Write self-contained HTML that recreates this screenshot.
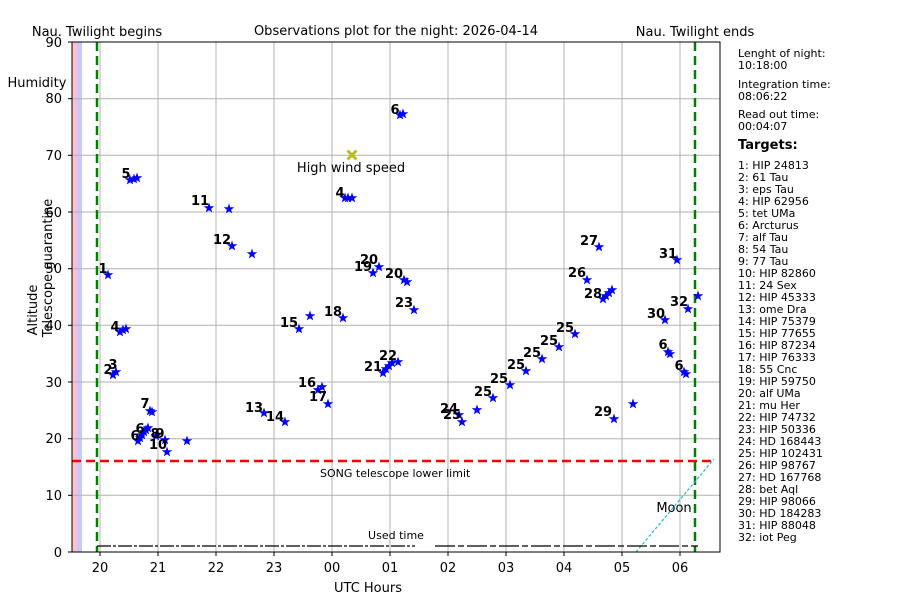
<!DOCTYPE html>
<html><head><meta charset="utf-8"><style>
body{margin:0;background:#fff;}
svg text{font-family:"DejaVu Sans","Liberation Sans",sans-serif;}
</style></head><body>
<svg width="900" height="600" xmlns="http://www.w3.org/2000/svg">
<defs><polygon id="s" points="0,-5.5 1.3,-1.8 5.3,-1.7 2.1,0.7 3.2,4.4 0,2.2 -3.2,4.4 -2.1,0.7 -5.3,-1.7 -1.3,-1.8" fill="#0000ff"/></defs>
<rect x="72" y="42" width="648" height="510" fill="#fff"/>
<rect x="72" y="42" width="5" height="510" fill="#ffc0cb"/>
<rect x="77" y="42" width="5" height="510" fill="#c8c8ff"/>
<g stroke="#b0b0b0" stroke-width="1">
<line x1="100" y1="42" x2="100" y2="552"/><line x1="158" y1="42" x2="158" y2="552"/><line x1="216" y1="42" x2="216" y2="552"/><line x1="274" y1="42" x2="274" y2="552"/><line x1="332" y1="42" x2="332" y2="552"/><line x1="390" y1="42" x2="390" y2="552"/><line x1="448" y1="42" x2="448" y2="552"/><line x1="506" y1="42" x2="506" y2="552"/><line x1="564" y1="42" x2="564" y2="552"/><line x1="622" y1="42" x2="622" y2="552"/><line x1="680" y1="42" x2="680" y2="552"/>
<line x1="72" y1="495.3" x2="720" y2="495.3"/><line x1="72" y1="438.7" x2="720" y2="438.7"/><line x1="72" y1="382" x2="720" y2="382"/><line x1="72" y1="325.3" x2="720" y2="325.3"/><line x1="72" y1="268.7" x2="720" y2="268.7"/><line x1="72" y1="212" x2="720" y2="212"/><line x1="72" y1="155.3" x2="720" y2="155.3"/><line x1="72" y1="98.7" x2="720" y2="98.7"/>
</g>
<line x1="72" y1="461" x2="716" y2="461" stroke="#ff0000" stroke-width="2.5" stroke-dasharray="9,5"/>
<line x1="97" y1="42" x2="97" y2="552" stroke="#008000" stroke-width="2.5" stroke-dasharray="9,5"/>
<line x1="695" y1="42" x2="695" y2="552" stroke="#008000" stroke-width="2.5" stroke-dasharray="9,5"/>
<line x1="636" y1="552" x2="714" y2="459" stroke="#17becf" stroke-width="1.2" stroke-dasharray="3,2"/>
<line x1="97" y1="546" x2="415" y2="546" stroke="#000" stroke-width="1.2" stroke-dasharray="14,2,3,2"/>
<line x1="435" y1="546" x2="698" y2="546" stroke="#000" stroke-width="1.2" stroke-dasharray="20,3,6,3"/>
<g>
<use href="#s" x="108" y="275"/><use href="#s" x="113" y="375"/><use href="#s" x="116" y="372"/>
<use href="#s" x="120" y="332"/><use href="#s" x="123" y="330"/><use href="#s" x="126" y="329"/>
<use href="#s" x="130" y="180"/><use href="#s" x="134" y="179"/><use href="#s" x="137" y="178"/>
<use href="#s" x="138" y="441"/><use href="#s" x="140" y="438"/><use href="#s" x="142" y="435"/><use href="#s" x="144" y="432"/><use href="#s" x="146" y="430"/><use href="#s" x="148" y="428"/>
<use href="#s" x="150" y="411"/><use href="#s" x="152" y="412"/><use href="#s" x="156" y="436"/><use href="#s" x="165" y="440"/><use href="#s" x="167" y="452"/><use href="#s" x="187" y="441"/>
<use href="#s" x="209" y="208"/><use href="#s" x="229" y="209"/><use href="#s" x="232" y="246"/><use href="#s" x="252" y="254"/>
<use href="#s" x="264" y="413"/><use href="#s" x="285" y="422"/><use href="#s" x="299" y="329"/><use href="#s" x="310" y="316"/>
<use href="#s" x="318" y="390"/><use href="#s" x="322" y="387"/><use href="#s" x="328" y="404"/><use href="#s" x="343" y="318"/>
<use href="#s" x="345" y="198"/><use href="#s" x="348" y="198"/><use href="#s" x="352" y="198"/>
<use href="#s" x="400" y="115"/><use href="#s" x="403" y="114"/>
<use href="#s" x="373" y="273"/><use href="#s" x="379" y="267"/><use href="#s" x="404" y="280"/><use href="#s" x="407" y="282"/>
<use href="#s" x="383" y="373"/><use href="#s" x="386" y="369"/><use href="#s" x="389" y="366"/><use href="#s" x="392" y="363"/><use href="#s" x="398" y="362"/>
<use href="#s" x="414" y="310"/><use href="#s" x="459" y="415"/><use href="#s" x="462" y="422"/><use href="#s" x="477" y="410"/><use href="#s" x="493" y="398"/>
<use href="#s" x="510" y="385"/><use href="#s" x="526" y="371"/><use href="#s" x="542" y="359"/><use href="#s" x="559" y="347"/><use href="#s" x="575" y="334"/>
<use href="#s" x="599" y="247"/><use href="#s" x="587" y="280"/><use href="#s" x="603" y="299"/><use href="#s" x="606" y="296"/><use href="#s" x="609" y="293"/><use href="#s" x="612" y="290"/>
<use href="#s" x="614" y="419"/><use href="#s" x="633" y="404"/><use href="#s" x="665" y="320"/><use href="#s" x="677" y="260"/><use href="#s" x="688" y="309"/><use href="#s" x="698" y="296"/>
<use href="#s" x="668" y="352"/><use href="#s" x="670" y="354"/><use href="#s" x="684" y="372"/><use href="#s" x="686" y="374"/>
</g>
<g stroke="#bcbd22" stroke-width="3"><line x1="347.5" y1="150.5" x2="356.5" y2="159.5"/><line x1="356.5" y1="150.5" x2="347.5" y2="159.5"/></g>
<text x="351" y="172" font-size="13" text-anchor="middle">High wind speed</text>
<g font-size="13" font-weight="bold" text-anchor="middle">
<text x="103" y="273">1</text><text x="108" y="374">2</text><text x="113" y="369">3</text><text x="115" y="331">4</text><text x="126" y="178">5</text>
<text x="135" y="440">6</text><text x="140" y="433">6</text><text x="145" y="408">7</text><text x="155" y="438">8</text><text x="160" y="438">9</text><text x="158" y="449">10</text>
<text x="200" y="205">11</text><text x="222" y="244">12</text><text x="254" y="412">13</text><text x="275" y="421">14</text><text x="289" y="327">15</text>
<text x="307" y="387">16</text><text x="318" y="401">17</text><text x="333" y="316">18</text><text x="340" y="197">4</text><text x="395" y="114">6</text>
<text x="363" y="271">19</text><text x="369" y="264">20</text><text x="394" y="278">20</text><text x="373" y="371">21</text><text x="388" y="360">22</text><text x="404" y="307">23</text>
<text x="449" y="413">24</text><text x="452" y="419">25</text><text x="483" y="396">25</text><text x="499" y="383">25</text><text x="516" y="369">25</text><text x="532" y="357">25</text><text x="549" y="345">25</text><text x="565" y="332">25</text>
<text x="589" y="245">27</text><text x="577" y="277">26</text><text x="593" y="298">28</text><text x="603" y="416">29</text><text x="656" y="318">30</text><text x="668" y="258">31</text><text x="679" y="306">32</text><text x="663" y="349">6</text><text x="679" y="370">6</text>
</g>
<text x="320" y="477" font-size="11">SONG telescope lower limit</text>
<text x="396" y="539" font-size="11" text-anchor="middle">Used time</text>
<text x="674" y="512" font-size="13" text-anchor="middle">Moon</text>
<rect x="72" y="42" width="648" height="510" fill="none" stroke="#000" stroke-width="1"/>
<g font-size="13" text-anchor="end">
<text x="62" y="557">0</text><text x="62" y="500">10</text><text x="62" y="443">20</text><text x="62" y="387">30</text><text x="62" y="330">40</text><text x="62" y="273">50</text><text x="62" y="217">60</text><text x="62" y="160">70</text><text x="62" y="103">80</text><text x="62" y="47">90</text>
</g>
<g stroke="#000"><line x1="68" y1="552" x2="72" y2="552"/><line x1="68" y1="495.3" x2="72" y2="495.3"/><line x1="68" y1="438.7" x2="72" y2="438.7"/><line x1="68" y1="382" x2="72" y2="382"/><line x1="68" y1="325.3" x2="72" y2="325.3"/><line x1="68" y1="268.7" x2="72" y2="268.7"/><line x1="68" y1="212" x2="72" y2="212"/><line x1="68" y1="155.3" x2="72" y2="155.3"/><line x1="68" y1="98.7" x2="72" y2="98.7"/><line x1="68" y1="42" x2="72" y2="42"/>
<line x1="100" y1="552" x2="100" y2="556"/><line x1="158" y1="552" x2="158" y2="556"/><line x1="216" y1="552" x2="216" y2="556"/><line x1="274" y1="552" x2="274" y2="556"/><line x1="332" y1="552" x2="332" y2="556"/><line x1="390" y1="552" x2="390" y2="556"/><line x1="448" y1="552" x2="448" y2="556"/><line x1="506" y1="552" x2="506" y2="556"/><line x1="564" y1="552" x2="564" y2="556"/><line x1="622" y1="552" x2="622" y2="556"/><line x1="680" y1="552" x2="680" y2="556"/></g>
<g font-size="13" text-anchor="middle">
<text x="100" y="572">20</text><text x="158" y="572">21</text><text x="216" y="572">22</text><text x="274" y="572">23</text><text x="332" y="572">00</text><text x="390" y="572">01</text><text x="448" y="572">02</text><text x="506" y="572">03</text><text x="564" y="572">04</text><text x="622" y="572">05</text><text x="680" y="572">06</text>
<text x="368" y="592">UTC Hours</text>
<text x="396" y="35">Observations plot for the night: 2026-04-14</text>
<text x="97" y="36">Nau. Twilight begins</text>
<text x="695" y="36">Nau. Twilight ends</text>
<text x="37" y="87">Humidity</text>
<text transform="translate(37,310) rotate(-90)">Altitude</text>
<text transform="translate(52,268) rotate(-90)">Telescope guarantine</text>
</g>
<g font-size="11">
<text x="738" y="57">Lenght of night:</text><text x="738" y="69">10:18:00</text>
<text x="738" y="88">Integration time:</text><text x="738" y="100">08:06:22</text>
<text x="738" y="118">Read out time:</text><text x="738" y="130">00:04:07</text>
<text x="738" y="149" font-size="13" font-weight="bold">Targets:</text>
<text x="738" y="169">1: HIP 24813</text><text x="738" y="181">2: 61 Tau</text><text x="738" y="193">3: eps Tau</text><text x="738" y="205">4: HIP 62956</text><text x="738" y="217">5: tet UMa</text><text x="738" y="229">6: Arcturus</text><text x="738" y="241">7: alf Tau</text><text x="738" y="253">8: 54 Tau</text><text x="738" y="265">9: 77 Tau</text><text x="738" y="277">10: HIP 82860</text><text x="738" y="289">11: 24 Sex</text><text x="738" y="301">12: HIP 45333</text><text x="738" y="313">13: ome Dra</text><text x="738" y="325">14: HIP 75379</text><text x="738" y="337">15: HIP 77655</text><text x="738" y="349">16: HIP 87234</text><text x="738" y="361">17: HIP 76333</text><text x="738" y="373">18: 55 Cnc</text><text x="738" y="385">19: HIP 59750</text><text x="738" y="397">20: alf UMa</text><text x="738" y="409">21: mu Her</text><text x="738" y="421">22: HIP 74732</text><text x="738" y="433">23: HIP 50336</text><text x="738" y="445">24: HD 168443</text><text x="738" y="457">25: HIP 102431</text><text x="738" y="469">26: HIP 98767</text><text x="738" y="481">27: HD 167768</text><text x="738" y="493">28: bet Aql</text><text x="738" y="505">29: HIP 98066</text><text x="738" y="517">30: HD 184283</text><text x="738" y="529">31: HIP 88048</text><text x="738" y="541">32: iot Peg</text>
</g>
</svg>
</body></html>
